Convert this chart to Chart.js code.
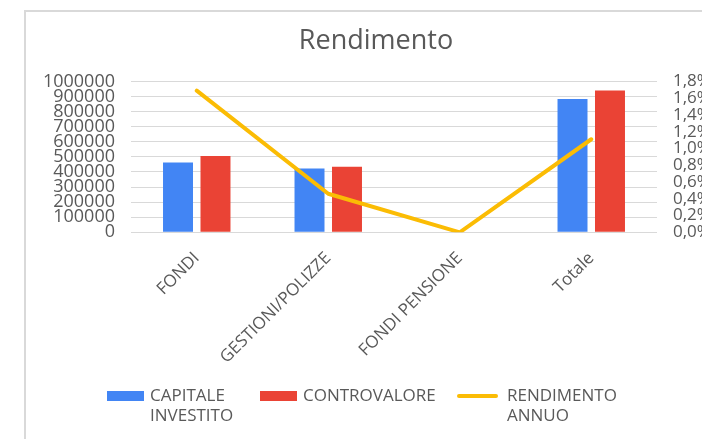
<!DOCTYPE html>
<html>
<head>
<meta charset="utf-8">
<script src="https://cdn.jsdelivr.net/npm/chart.js@4.4.0/dist/chart.umd.min.js"></script>
<style>
  html, body { margin: 0; padding: 0; background: #fff; overflow: hidden; }
  #card {
    position: absolute; left: 24px; top: 10px;
    width: 700px; height: 440px;
    border: 2px solid #d9d9d9;
  }
  .leg {
    position: absolute; top: 385px;
    font: 17px/20px 'Open Sans', sans-serif; color: #595959;
  }
  .leg .sw { position: absolute; }
  .leg .txt { position: absolute; white-space: nowrap; }
</style>
</head>
<body>
<div id="card"><canvas id="myChart" width="700" height="440"></canvas></div>
<div id="legenda"></div>
<script>
// dati
const categorie = ["FONDI", "GESTIONI/POLIZZE", "FONDI PENSIONE", "Totale"];
const capitaleInvestito = [462000, 422000, 0, 884000];
const controvalore = [505000, 434000, 0, 939000];
const rendimentoAnnuo = [1.69, 0.46, 0, 1.11]; // in %

const grigio = "#595959";
const font = "'Open Sans', sans-serif";

const grafico = new Chart(document.getElementById("myChart"), {
  type: "bar",
  data: {
    labels: categorie,
    datasets: [
      {
        label: ["CAPITALE", "INVESTITO"],
        data: capitaleInvestito,
        backgroundColor: "#4285F4",
        yAxisID: "y",
        order: 1,
        categoryPercentage: 0.57,
        barPercentage: 0.8,
      },
      {
        label: ["CONTROVALORE"],
        data: controvalore,
        backgroundColor: "#EA4335",
        yAxisID: "y",
        order: 1,
        categoryPercentage: 0.57,
        barPercentage: 0.8,
      },
      {
        type: "line",
        label: ["RENDIMENTO", "ANNUO"],
        data: rendimentoAnnuo,
        borderColor: "#FBBC04",
        backgroundColor: "#FBBC04",
        borderWidth: 4,
        borderCapStyle: "round",
        borderJoinStyle: "round",
        pointRadius: 0,
        tension: 0,
        yAxisID: "y1",
        order: 0,
      },
    ],
  },
  options: {
    responsive: false,
    animation: false,
    devicePixelRatio: 1,
    layout: { padding: 0 },
    plugins: {
      tooltip: { enabled: false },
      legend: { display: false },
      title: {
        display: true,
        text: "Rendimento",
        color: grigio,
        font: { family: font, size: 27, weight: "normal" },
        padding: { top: 13, bottom: 24 },
      },
    },
    scales: {
      x: {
        grid: { display: false },
        border: { display: false },
        ticks: {
          color: grigio,
          font: { family: font, size: 17 },
          minRotation: 45,
          maxRotation: 45,
          autoSkip: false,
          padding: 8,
        },
        afterFit: (scale) => { scale.height = 219.7; },
      },
      y: {
        position: "left",
        min: 0,
        max: 1000000,
        border: { display: false },
        grid: { color: "#d9d9d9", lineWidth: 1, drawTicks: false },
        ticks: {
          stepSize: 100000,
          autoSkip: false,
          color: grigio,
          font: { family: font, size: 18 },
          padding: 16,
          callback: (v) => String(v),
        },
        afterFit: (scale) => { scale.width = 105; },
      },
      y1: {
        position: "right",
        min: 0,
        max: 1.8,
        border: { display: false },
        grid: { display: false, drawTicks: false },
        ticks: {
          stepSize: 0.2,
          autoSkip: false,
          color: grigio,
          font: { family: font, size: 17 },
          padding: 16,
          callback: (v) => v.toFixed(1).replace(".", ",") + "%",
        },
        afterFit: (scale) => { scale.width = 69; },
      },
    },
  },
});

// legenda html (etichette su due righe come nell'originale)
const posLegenda = [107, 260, 457];
const legenda = document.getElementById("legenda");
grafico.data.datasets.forEach((ds, i) => {
  const el = document.createElement("div");
  el.className = "leg";
  el.style.left = posLegenda[i] + "px";
  const sw = document.createElement("div");
  sw.className = "sw";
  const txt = document.createElement("div");
  txt.className = "txt";
  if (ds.type === "line") {
    sw.style.cssText = "left:0;top:9px;width:41px;height:4px;border-radius:2px;background:" + ds.borderColor;
    txt.style.left = "50px";
  } else {
    sw.style.cssText = "left:0;top:6px;width:37px;height:10px;background:" + ds.backgroundColor;
    txt.style.left = "43px";
  }
  txt.innerHTML = ds.label.join("<br>");
  el.appendChild(sw);
  el.appendChild(txt);
  legenda.appendChild(el);
});
</script>
</body>
</html>
